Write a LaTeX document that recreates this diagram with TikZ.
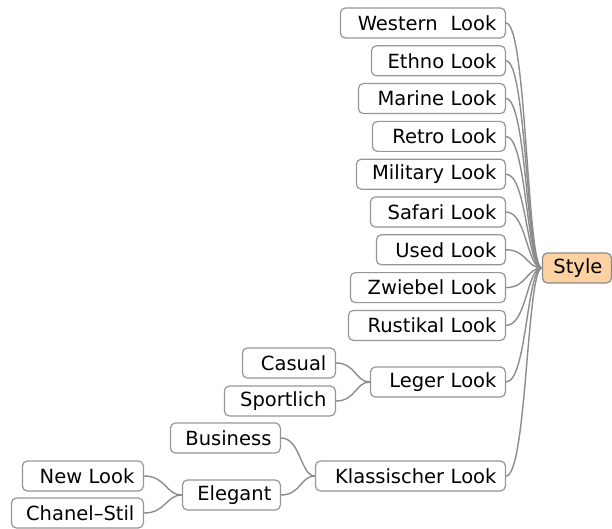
\documentclass[tikz,border=0pt]{standalone}
\usepackage{fontspec}
\setmainfont{DejaVu Sans}
\usetikzlibrary{calc}
\definecolor{edgegray}{HTML}{8C8C8C}
\definecolor{boxgray}{HTML}{969696}
\definecolor{rootfill}{HTML}{FDD2A2}
\tikzset{
  topic/.style={draw=boxgray, line width=1.2pt, fill=white, rounded corners=5pt,
    minimum height=30pt, inner ysep=0pt, inner xsep=9pt, align=right,
    text width=#1-18pt, anchor=east, font=\fontsize{19.5}{22}\selectfont},
  root/.style={topic=#1, fill=rootfill, draw=edgegray},
  conn/.style={draw=edgegray, line width=1.4pt},
}
% child-to-parent branch: leaves and enters horizontally
\newcommand{\branch}[2]{%
  \draw[conn] let \p1=(#1.east), \p2=(#2.west) in
    (\p1) .. controls ({\x1+0.58*(\x2-\x1)},\y1) and ({\x1+0.58*(\x2-\x1)},\y2) .. (\p2);}
\begin{document}
\begin{tikzpicture}[x=1pt,y=-1pt]
\useasboundingbox (0,0) rectangle (612,529);
% root
\node[root=69pt] (style) at (612,268) {Style};
% first level
\node[topic=165pt] (western)  at (506,23)    {Western~~Look};
\node[topic=134pt] (ethno)    at (506,60.8)  {Ethno Look};
\node[topic=147pt] (marine)   at (506,98.6)  {Marine Look};
\node[topic=133pt] (retro)    at (506,136.4) {Retro Look};
\node[topic=149pt] (military) at (506,174.2) {Military Look};
\node[topic=135pt] (safari)   at (506,212)   {Safari Look};
\node[topic=129pt] (used)     at (506,249.8) {Used Look};
\node[topic=155pt] (zwiebel)  at (506,287.6) {Zwiebel Look};
\node[topic=157pt] (rustikal) at (506,325.4) {Rustikal Look};
\node[topic=135pt] (leger)    at (506,382)   {Leger Look};
\node[topic=190pt] (klass)    at (506,476)   {Klassischer Look};
% second level
\node[topic=93pt]  (casual)    at (336,363) {Casual};
\node[topic=111pt] (sportlich) at (336,401) {Sportlich};
\node[topic=110pt] (business)  at (281,438) {Business};
\node[topic=98pt]  (elegant)   at (281,495) {Elegant};
% third level
\node[topic=121pt] (newlook) at (144,476) {New Look};
\node[topic=132pt] (chanel)  at (144,513) {Chanel–Stil};
% branches
\foreach \c in {western,ethno,marine,retro,military,safari,used,zwiebel,rustikal,leger,klass}
  {\branch{\c}{style}}
\branch{casual}{leger}
\branch{sportlich}{leger}
\branch{business}{klass}
\branch{elegant}{klass}
\branch{newlook}{elegant}
\branch{chanel}{elegant}
\end{tikzpicture}
\end{document}
